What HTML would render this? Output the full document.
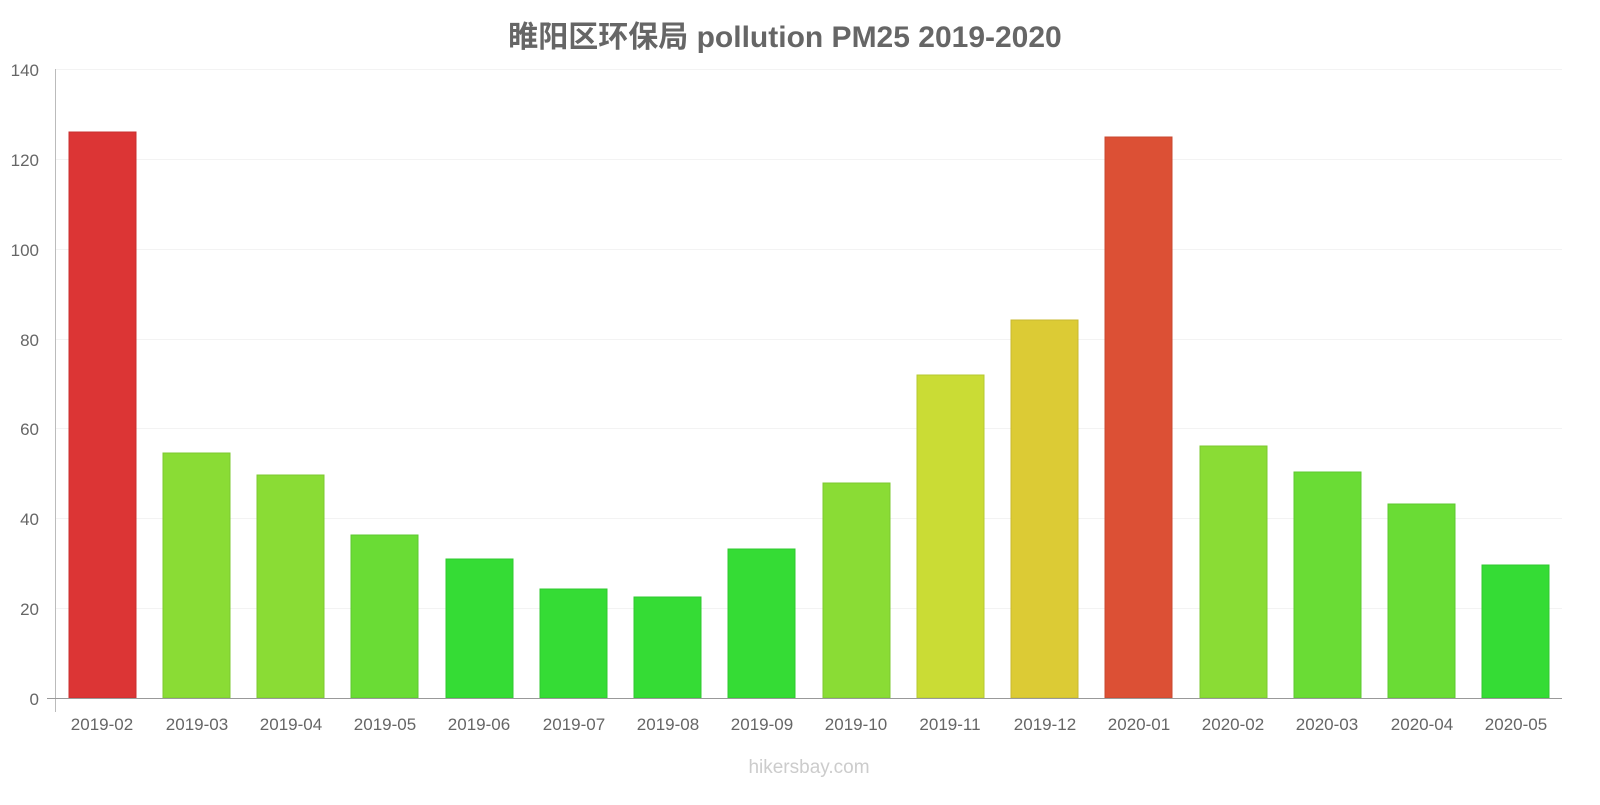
<!DOCTYPE html>
<html><head><meta charset="utf-8"><style>
body{margin:0;background:#fff;}
svg text{font-family:"Liberation Sans","Noto Sans CJK SC",sans-serif;}
</style></head><body>
<svg width="1600" height="800" xmlns="http://www.w3.org/2000/svg">
<text x="785" y="47" text-anchor="middle" font-size="30" font-weight="bold" fill="#666">睢阳区环保局 pollution PM25 2019-2020</text>
<g stroke="#f3f3f3" stroke-width="1">
<line x1="55" x2="1562" y1="69.5" y2="69.5"/><line x1="55" x2="1562" y1="159.5" y2="159.5"/>
<line x1="55" x2="1562" y1="249.5" y2="249.5"/><line x1="55" x2="1562" y1="339.5" y2="339.5"/>
<line x1="55" x2="1562" y1="428.5" y2="428.5"/><line x1="55" x2="1562" y1="518.5" y2="518.5"/>
<line x1="55" x2="1562" y1="608.5" y2="608.5"/>
</g>
<g font-size="17" fill="#666" text-anchor="end">
<text x="39" y="76">140</text><text x="39" y="166">120</text><text x="39" y="256">100</text>
<text x="39" y="346">80</text><text x="39" y="435">60</text><text x="39" y="525">40</text>
<text x="39" y="615">20</text><text x="39" y="705">0</text>
</g>
<g stroke-width="1">
<rect x="69" y="132" width="67" height="566" fill="#dc3535" stroke="#c83030"/>
<rect x="163" y="453" width="67" height="245" fill="#8adc35" stroke="#7cc830"/>
<rect x="257" y="475" width="67" height="223" fill="#8adc35" stroke="#7cc830"/>
<rect x="351" y="535" width="67" height="163" fill="#6adc35" stroke="#5ec830"/>
<rect x="446" y="559" width="67" height="139" fill="#35dc35" stroke="#30c830"/>
<rect x="540" y="589" width="67" height="109" fill="#35dc35" stroke="#30c830"/>
<rect x="634" y="597" width="67" height="101" fill="#35dc35" stroke="#30c830"/>
<rect x="728" y="549" width="67" height="149" fill="#35dc35" stroke="#30c830"/>
<rect x="823" y="483" width="67" height="215" fill="#8adc35" stroke="#7cc830"/>
<rect x="917" y="375" width="67" height="323" fill="#cadc35" stroke="#b6c830"/>
<rect x="1011" y="320" width="67" height="378" fill="#dccb35" stroke="#c8b830"/>
<rect x="1105" y="137" width="67" height="561" fill="#dc5035" stroke="#c84830"/>
<rect x="1200" y="446" width="67" height="252" fill="#8adc35" stroke="#7cc830"/>
<rect x="1294" y="472" width="67" height="226" fill="#6adc35" stroke="#5ec830"/>
<rect x="1388" y="504" width="67" height="194" fill="#6adc35" stroke="#5ec830"/>
<rect x="1482" y="565" width="67" height="133" fill="#35dc35" stroke="#30c830"/>
</g>
<line x1="55.5" x2="55.5" y1="69" y2="712" stroke="#bbb"/>
<line x1="47" x2="1562" y1="698.5" y2="698.5" stroke="#999"/>
<g font-size="17" fill="#666" text-anchor="middle">
<text x="102" y="730">2019-02</text><text x="197" y="730">2019-03</text><text x="291" y="730">2019-04</text>
<text x="385" y="730">2019-05</text><text x="479" y="730">2019-06</text><text x="574" y="730">2019-07</text>
<text x="668" y="730">2019-08</text><text x="762" y="730">2019-09</text><text x="856" y="730">2019-10</text>
<text x="950" y="730">2019-11</text><text x="1045" y="730">2019-12</text><text x="1139" y="730">2020-01</text>
<text x="1233" y="730">2020-02</text><text x="1327" y="730">2020-03</text><text x="1422" y="730">2020-04</text>
<text x="1516" y="730">2020-05</text>
</g>
<text x="809" y="773" text-anchor="middle" font-size="19" fill="#ccc">hikersbay.com</text>
</svg>
</body></html>
